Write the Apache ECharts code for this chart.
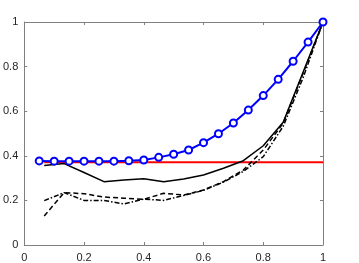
<!DOCTYPE html>
<html>
<head>
<meta charset="utf-8">
<script src="https://cdn.jsdelivr.net/npm/echarts@6/dist/echarts.min.js"></script>
<style>
  html, body { margin: 0; padding: 0; background: #fff; }
  #chart { width: 359px; height: 263px; }
</style>
</head>
<body>
<div id="chart"></div>
<script>
// blue curve, sampled every 0.05
const blueX = [0.05, 0.1, 0.15, 0.2, 0.25, 0.3, 0.35, 0.4, 0.45, 0.5,
  0.55, 0.6, 0.65, 0.7, 0.75, 0.8, 0.85, 0.9, 0.95, 1];
const blueY = [0.377, 0.376, 0.376, 0.376, 0.376, 0.376, 0.378, 0.381, 0.393, 0.407,
  0.426, 0.459, 0.499, 0.547, 0.605, 0.670, 0.743, 0.824, 0.910, 1];

// black curves, sampled every 1/15
const blackX = [0.0667, 0.1333, 0.2, 0.2667, 0.3333, 0.4, 0.4667, 0.5333,
  0.6, 0.6667, 0.7333, 0.8, 0.8667, 0.9333, 1];
const solidY = [0.356, 0.365, 0.325, 0.284, 0.292, 0.297, 0.284, 0.296,
  0.314, 0.344, 0.378, 0.445, 0.55, 0.775, 1];
const dashedY = [0.13, 0.235, 0.23, 0.215, 0.21, 0.205, 0.232, 0.224,
  0.247, 0.284, 0.336, 0.426, 0.546, 0.77, 1];
const dashDotY = [0.199, 0.235, 0.2, 0.2, 0.184, 0.206, 0.2, 0.222,
  0.245, 0.282, 0.33, 0.396, 0.532, 0.75, 1];

// red reference level
const redX = [0.0667, 1];
const redLevel = 0.371;

const ticks = [0, 0.2, 0.4, 0.6, 0.8, 1];

const pairs = (xs, ys) => xs.map((x, i) => [x, ys[i]]);

const axisColor = "#262626";
const font = "'Liberation Sans', Arial, sans-serif";

const baseAxis = {
  type: "value",
  min: 0,
  max: 1,
  interval: 0.2,
  axisLine: { show: true, onZero: false, lineStyle: { color: "#808080", width: 1 } },
  axisTick: { show: true, inside: true, length: 3, lineStyle: { color: "#808080" } },
  splitLine: { show: false }
};

const labelStyle = {
  color: axisColor,
  fontSize: 11,
  fontFamily: font,
  formatter: v => (ticks.includes(+v.toFixed(1)) ? String(+v.toFixed(1)) : "")
};

const chart = echarts.init(document.getElementById("chart"));

chart.setOption({
  animation: false,
  grid: { left: 23, right: 36, top: 22, bottom: 18 },
  xAxis: [
    { ...baseAxis, position: "bottom", axisLabel: { ...labelStyle, margin: 7 } },
    { ...baseAxis, position: "top", axisLabel: { show: false } }
  ],
  yAxis: [
    { ...baseAxis, position: "left", axisLabel: { ...labelStyle, margin: 6 } },
    { ...baseAxis, position: "right", axisLabel: { show: false } }
  ],
  series: [
    {
      type: "line",
      data: pairs(redX, redX.map(() => redLevel)),
      symbol: "none",
      lineStyle: { color: "#ff0000", width: 2 },
      z: 2
    },
    {
      type: "line",
      data: pairs(blackX, solidY),
      symbol: "none",
      lineStyle: { color: "#000", width: 1.5 },
      z: 3
    },
    {
      type: "line",
      data: pairs(blackX, dashedY),
      symbol: "none",
      lineStyle: { color: "#000", width: 1.5, type: [5, 3] },
      z: 3
    },
    {
      type: "line",
      data: pairs(blackX, dashDotY),
      symbol: "none",
      lineStyle: { color: "#000", width: 1.5, type: [5, 2, 1.5, 2] },
      z: 3
    },
    {
      type: "line",
      data: pairs(blueX, blueY),
      symbol: "circle",
      symbolSize: 7,
      itemStyle: { color: "#fff", borderColor: "#0000ff", borderWidth: 2 },
      lineStyle: { color: "#0000ff", width: 2 },
      z: 4
    }
  ]
});
</script>
</body>
</html>
